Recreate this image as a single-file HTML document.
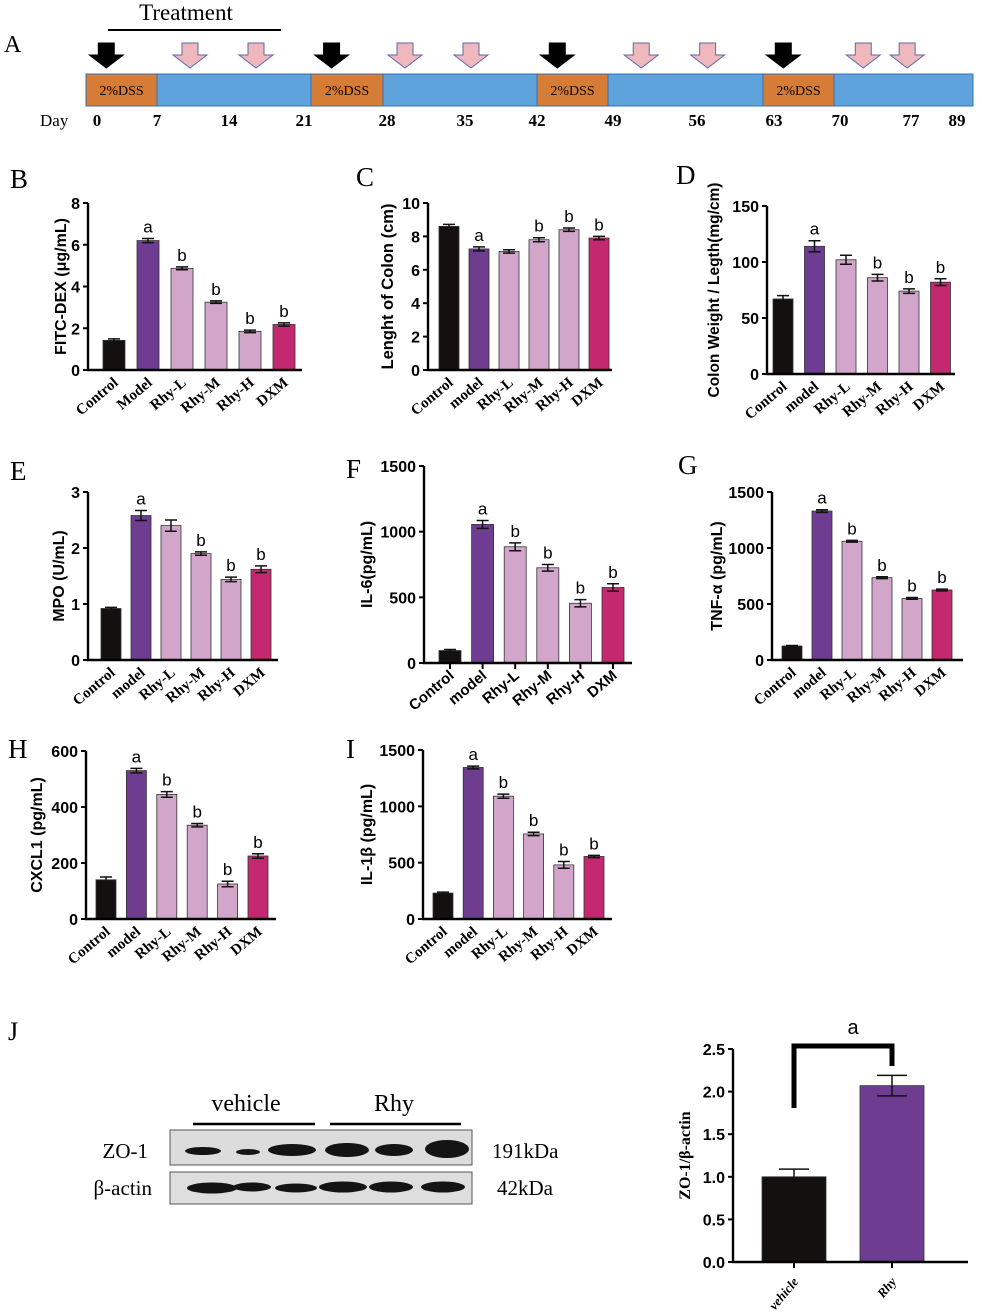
<!DOCTYPE html>
<html><head><meta charset="utf-8">
<style>
html,body{margin:0;padding:0;background:#fff;}
svg{display:block;}
.serif{font-family:"Liberation Serif",serif;}
.sans{font-family:"Liberation Sans",sans-serif;}
</style></head>
<body>
<svg id="fig" width="982" height="1316" viewBox="0 0 982 1316" xmlns="http://www.w3.org/2000/svg">
<g>
<text x="4" y="52" class="serif" font-size="24">A</text>
<text x="186" y="20" class="serif" font-size="23" text-anchor="middle">Treatment</text>
<line x1="108" y1="30" x2="281" y2="30" stroke="#000" stroke-width="2"/>
<rect x="86" y="74" width="887" height="32" fill="#5ea3dc" stroke="#3b6fb0" stroke-width="1"/>
<g id="dss"></g>
<g id="arrows"></g>
<g id="days" class="serif" font-size="17" font-weight="bold"></g>
<text x="40" y="126" class="serif" font-size="17">Day</text>
</g>
<g id="charts"></g>
<g>
<text x="8" y="1040" class="serif" font-size="26">J</text>
<text x="246" y="1111" class="serif" font-size="24" text-anchor="middle">vehicle</text>
<line x1="193" y1="1124" x2="315" y2="1124" stroke="#000" stroke-width="2.5"/>
<text x="394" y="1111" class="serif" font-size="24" text-anchor="middle">Rhy</text>
<line x1="330" y1="1124" x2="461" y2="1124" stroke="#000" stroke-width="2.5"/>
<text x="148" y="1158" class="serif" font-size="21" text-anchor="end">ZO-1</text>
<text x="152" y="1195" class="serif" font-size="21" text-anchor="end">β-actin</text>
<text x="492" y="1158" class="serif" font-size="21">191kDa</text>
<text x="497" y="1195" class="serif" font-size="21">42kDa</text>
<rect x="170" y="1130" width="302" height="35" fill="#dcdcdc" stroke="#555"/>
<rect x="170" y="1172" width="302" height="32" fill="#dedede" stroke="#555"/>
<g fill="#141414">
<ellipse cx="203" cy="1151" rx="18" ry="4"/><ellipse cx="248" cy="1152" rx="12" ry="3"/><ellipse cx="292" cy="1150" rx="24" ry="6"/>
<ellipse cx="347" cy="1150" rx="22" ry="7"/><ellipse cx="394" cy="1150" rx="19" ry="6"/><ellipse cx="447" cy="1149" rx="22" ry="9"/>
<ellipse cx="212" cy="1188" rx="25" ry="5.5"/><ellipse cx="252" cy="1187" rx="19" ry="4.5"/><ellipse cx="296" cy="1188" rx="21" ry="4.5"/>
<ellipse cx="343" cy="1187" rx="24" ry="5.5"/><ellipse cx="391" cy="1187" rx="22" ry="5.5"/><ellipse cx="443" cy="1187" rx="22" ry="5.5"/>
</g>
</g>
</svg>
<script>
const catsB = ["Control","Model","Rhy-L","Rhy-M","Rhy-H","DXM"];
const catsModel = ["Control","model","Rhy-L","Rhy-M","Rhy-H","DXM"];
const valsB = [1.42,6.2,4.87,3.25,1.85,2.18];
const errB = [0.07,0.1,0.07,0.06,0.06,0.08];
const ticksB = [0,2,4,6,8];
const sigB = ["","a","b","b","b","b"];
const valsC = [8.6,7.25,7.1,7.8,8.4,7.9];
const errC = [0.12,0.12,0.1,0.12,0.1,0.1];
const ticksC = [0,2,4,6,8,10];
const sigC = ["","a","","b","b","b"];
const valsD = [67,114,102,86,74,82];
const errD = [3,5,4,3,2,3];
const ticksD = [0,50,100,150];
const sigD = ["","a","","b","b","b"];
const valsE = [0.92,2.58,2.4,1.9,1.44,1.62];
const errE = [0.02,0.09,0.1,0.03,0.04,0.06];
const ticksE = [0,1,2,3];
const sigE = ["","a","","b","b","b"];
const valsF = [95,1055,885,725,455,575];
const errF = [8,30,30,25,28,28];
const ticksF = [0,500,1000,1500];
const sigF = ["","a","b","b","b","b"];
const valsG = [125,1330,1060,735,550,625];
const errG = [5,12,8,8,8,8];
const ticksG = [0,500,1000,1500];
const sigG = ["","a","b","b","b","b"];
const valsH = [140,530,445,335,125,225];
const errH = [10,8,10,6,10,8];
const ticksH = [0,200,400,600];
const sigH = ["","a","b","b","b","b"];
const valsI = [230,1345,1090,755,480,555];
const errI = [8,12,18,15,30,10];
const ticksI = [0,500,1000,1500];
const sigI = ["","a","b","b","b","b"];
const catsJ = ["vehicle","Rhy"];
const valsJ = [1.0,2.07];
const errJ = [0.09,0.12];
const ticksJ = ["0.0","0.5","1.0","1.5","2.0","2.5"];
const dayLabels = ["0","7","14","21","28","35","42","49","56","63","70","77","89"];
const dssDays = [0,21,42,63];
const blackArrowDays = [2,23,44,65];
const pinkArrowDays = [10,16,30,36,52,58,74,80];

const colors6 = ["#141010","#6e3d91","#d2a6cb","#d2a6cb","#d2a6cb","#c4286f"];
const NS = "http://www.w3.org/2000/svg";
function mk(tag, attrs, parent){const e=document.createElementNS(NS,tag);for(const k in attrs)e.setAttribute(k,attrs[k]);parent.appendChild(e);return e;}

const dayAnchors=[0,7,21,28,42,49,63,70,89];
const xAnchors=[86,157,311,383,537,608,763,834,973];
function dayX(d){for(let i=0;i<dayAnchors.length-1;i++){if(d<=dayAnchors[i+1]){const t=(d-dayAnchors[i])/(dayAnchors[i+1]-dayAnchors[i]);return xAnchors[i]+t*(xAnchors[i+1]-xAnchors[i]);}}return xAnchors[xAnchors.length-1];}
const gD=document.getElementById('dss');
dssDays.forEach(d=>{
  const x0=dayX(d),x1=dayX(d+7);
  const r=mk('rect',{x:x0,y:74,width:x1-x0,height:32,fill:"#d57c36",stroke:"#3b6fb0","stroke-width":1},gD);
  
  
  const t=mk('text',{x:(x0+x1)/2,y:95,"text-anchor":"middle","font-size":14,"font-family":"Liberation Serif, serif"},gD);
  t.textContent="2%DSS";
  
  
});
const gA=document.getElementById('arrows');
function arrow(cx,fill,stroke){
  const p=`M${cx-8},43 L${cx+8},43 L${cx+8},55 L${cx+17},55 L${cx},68 L${cx-17},55 L${cx-8},55 Z`;
  return mk('path',{d:p,fill:fill,stroke:stroke,"stroke-width":1},gA);
}
blackArrowDays.forEach(d=>{const a=arrow(dayX(d),"#000","#000");});
pinkArrowDays.forEach(d=>{const a=arrow(dayX(d),"#efb8bd","#5a6aa8");});
const gDay=document.getElementById('days');
const dayPos=[97,157,229,304,387,465,537,613,697,774,840,911,957];
dayLabels.forEach((l,i)=>{const t=mk('text',{x:dayPos[i],y:126,"text-anchor":"middle"},gDay);t.textContent=l;});

const charts=document.getElementById('charts');
function panel(o){
  const g=mk('g',{},charts);
  
  
  const ymax=parseFloat(o.ticks[o.ticks.length-1]);
  const Y=v=>o.bottom-(v/ymax)*(o.bottom-o.top);
  const X=i=>o.x0+i*o.step;
  const lab=mk('text',{x:o.lx,y:o.ly,"font-size":27,"font-family":"Liberation Serif, serif"},g);
  lab.textContent=o.letter;
  
  
  o.vals.forEach((v,i)=>{
    const b=mk('rect',{x:X(i)-o.bw/2,y:Y(v),width:o.bw,height:o.bottom-Y(v),fill:o.colors[i],stroke:"#333","stroke-width":0.8},g);
    
    
    const e=o.errs[i];
    const eb=mk('path',{d:`M${X(i)},${Y(v+e)}V${Y(v-e)}M${X(i)-o.cap},${Y(v+e)}H${X(i)+o.cap}M${X(i)-o.cap},${Y(v-e)}H${X(i)+o.cap}`,stroke:"#111","stroke-width":1.5,fill:"none"},g);
    
    
    if(o.sig && o.sig[i]){
      const s=mk('text',{x:X(i),y:Y(v+e)-6,"text-anchor":"middle","font-size":17,"font-family":"Liberation Sans, sans-serif"},g);
      s.textContent=o.sig[i];
      
      
    }
    const tx=X(i)+5, ty=o.bottom+o.lblDy;
    const t=mk('text',{x:tx,y:ty,"text-anchor":"end","font-size":o.lblSize,"font-weight":"bold","font-style":o.lblItalic?"italic":"normal","font-family":o.lblFont,transform:`rotate(${o.rot} ${tx} ${ty})`},g);
    t.textContent=o.cats[i];
    
    
  });
  mk('path',{d:`M${o.ax},${o.top}V${o.bottom}H${o.axEnd}`,stroke:"#000","stroke-width":2.4,fill:"none"},g);
  o.ticks.forEach((tv,k)=>{
    const v=parseFloat(tv);
    mk('line',{x1:o.ax-5,x2:o.ax,y1:Y(v),y2:Y(v),stroke:"#000","stroke-width":2},g);
    const t=mk('text',{x:o.ax-8,y:Y(v)+6,"text-anchor":"end","font-size":o.tickSize,"font-weight":"bold","font-family":o.tickFont||"Liberation Sans, sans-serif"},g);
    t.textContent=tv;
    
    
  });
  if(o.xticks){o.vals.forEach((v,i)=>mk('line',{x1:X(i),x2:X(i),y1:o.bottom,y2:o.bottom+6,stroke:"#000","stroke-width":2},g));}
  const cy=(o.top+o.bottom)/2;
  const yt=mk('text',{x:o.ytx,y:cy,"text-anchor":"middle","font-size":o.ytSize||16,"font-weight":"bold","font-family":o.ytFont||"Liberation Sans, sans-serif",transform:`rotate(-90 ${o.ytx} ${cy})`},g);
  yt.textContent=o.ytitle;
  
  
  return g;
}
const serifL="Liberation Serif, serif", sansL="Liberation Sans, sans-serif";
const common={colors:colors6,bw:22,cap:6,rot:-40,lblSize:15,lblFont:serifL,lblDy:14,tickSize:16};
panel(Object.assign({},common,{name:"chart-b-fitc-dex",letter:"B",lx:10,ly:188,cats:catsB,vals:valsB,errs:errB,ticks:ticksB,sig:sigB,ax:88,axEnd:302,top:203,bottom:370,x0:114,step:34,ytx:66,ytitle:"FITC-DEX (μg/mL)"}));
panel(Object.assign({},common,{name:"chart-c-colon-length",letter:"C",lx:356,ly:186,bw:20,cats:catsModel,vals:valsC,errs:errC,ticks:ticksC,sig:sigC,ax:428,axEnd:612,top:203,bottom:370,x0:449,step:30,ytx:393,ytSize:16.5,ytitle:"Lenght of Colon  (cm)"}));
panel(Object.assign({},common,{name:"chart-d-colon-weight",letter:"D",lx:676,ly:184,bw:20,cats:catsModel,vals:valsD,errs:errD,ticks:ticksD,sig:sigD,ax:767,axEnd:955,top:206,bottom:374,x0:783,step:31.5,ytx:719,ytSize:15.5,ytitle:"Colon Weight / Legth(mg/cm)"}));
panel(Object.assign({},common,{name:"chart-e-mpo",letter:"E",lx:10,ly:480,bw:20,cats:catsModel,vals:valsE,errs:errE,ticks:ticksE,sig:sigE,ax:88,axEnd:278,top:492,bottom:660,x0:111,step:30,ytx:64,ytitle:"MPO (U/mL)"}));
panel(Object.assign({},common,{name:"chart-f-il6",letter:"F",lx:346,ly:478,bw:22,lblFont:sansL,lblSize:15,cats:catsModel,vals:valsF,errs:errF,ticks:ticksF,sig:sigF,ax:424,axEnd:632,top:466,bottom:663,x0:450,step:32.6,ytx:372,ytitle:"IL-6(pg/mL)",xticks:true}));
panel(Object.assign({},common,{name:"chart-g-tnf-alpha",letter:"G",lx:678,ly:474,bw:20,cats:catsModel,vals:valsG,errs:errG,ticks:ticksG,sig:sigG,ax:772,axEnd:963,top:492,bottom:660,x0:792,step:30,ytx:722,ytitle:"TNF-α (pg/mL)"}));
panel(Object.assign({},common,{name:"chart-h-cxcl1",letter:"H",lx:8,ly:758,bw:20,cats:catsModel,vals:valsH,errs:errH,ticks:ticksH,sig:sigH,ax:86,axEnd:276,top:751,bottom:919,x0:106,step:30.4,ytx:42,ytitle:"CXCL1 (pg/mL)"}));
panel(Object.assign({},common,{name:"chart-i-il1b",letter:"I",lx:346,ly:758,bw:20,cats:catsModel,vals:valsI,errs:errI,ticks:ticksI,sig:sigI,ax:423,axEnd:612,top:750,bottom:919,x0:443,step:30.2,ytx:372,ytitle:"IL-1β (pg/mL)"}));
const gJ=panel({name:"chart-j-zo1",letter:"",lx:0,ly:0,colors:["#141010","#6e3d91"],bw:64,cap:15,rot:-50,lblSize:13,lblItalic:true,lblFont:serifL,lblDy:20,tickSize:16,tickFont:sansL,
  cats:catsJ,vals:valsJ,errs:errJ,ticks:ticksJ,sig:null,ax:733,axEnd:968,top:1049,bottom:1262,x0:794,step:98,ytx:690,ytSize:16,ytFont:serifL,ytitle:"ZO-1/β-actin",xticks:true});
(function(){
  const b=mk('path',{d:"M794,1108V1046H892V1066",stroke:"#000","stroke-width":5,fill:"none"},gJ);
  
  
  const t=mk('text',{x:853,y:1034,"text-anchor":"middle","font-size":20,"font-family":sansL},gJ);
  t.textContent="a";
  
  
})();
</script>
</body></html>
